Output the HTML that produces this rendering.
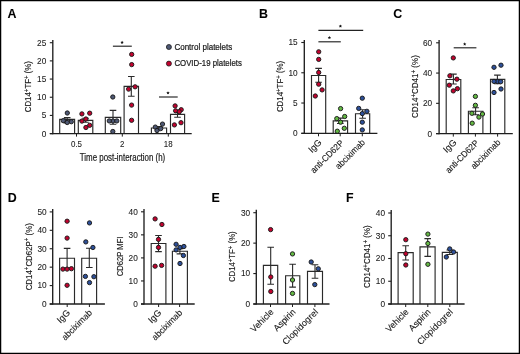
<!DOCTYPE html>
<html><head><meta charset="utf-8"><title>Figure</title>
<style>
html,body{margin:0;padding:0;background:#fff;}
body{width:520px;height:354px;overflow:hidden;}
svg{display:block;will-change:transform;}
text{font-family:"Liberation Sans", sans-serif;stroke:#1a1a1a;stroke-width:0.08px;}
</style></head>
<body>
<svg width="520" height="354" viewBox="0 0 520 354">
<rect x="0.6" y="0.6" width="518.8" height="352.8" fill="#fff" stroke="#000" stroke-width="1.3"/>
<path d="M59.7 133.6V119.3H74.6V133.6" fill="#fff" stroke="#2a2a2a" stroke-width="1.15"/>
<path d="M78.3 133.6V120.3H92.8V133.6" fill="#fff" stroke="#2a2a2a" stroke-width="1.15"/>
<path d="M105.3 133.6V117.3H120.7V133.6" fill="#fff" stroke="#2a2a2a" stroke-width="1.15"/>
<path d="M124.1 133.6V86.4H138.5V133.6" fill="#fff" stroke="#2a2a2a" stroke-width="1.15"/>
<path d="M151.4 133.6V128H166.6V133.6" fill="#fff" stroke="#2a2a2a" stroke-width="1.15"/>
<path d="M170.5 133.6V114.4H184.6V133.6" fill="#fff" stroke="#2a2a2a" stroke-width="1.15"/>
<path d="M311.5 133.3V75.5H325.7V133.3" fill="#fff" stroke="#2a2a2a" stroke-width="1.15"/>
<path d="M333.2 133.3V120.8H347.6V133.3" fill="#fff" stroke="#2a2a2a" stroke-width="1.15"/>
<path d="M355.5 133.3V113.7H369.7V133.3" fill="#fff" stroke="#2a2a2a" stroke-width="1.15"/>
<path d="M446.2 133.6V79.5H460.8V133.6" fill="#fff" stroke="#2a2a2a" stroke-width="1.15"/>
<path d="M468.4 133.6V111.2H482.9V133.6" fill="#fff" stroke="#2a2a2a" stroke-width="1.15"/>
<path d="M490.5 133.6V79.4H504.8V133.6" fill="#fff" stroke="#2a2a2a" stroke-width="1.15"/>
<path d="M59.6 304V258.2H74.5V304" fill="#fff" stroke="#2a2a2a" stroke-width="1.15"/>
<path d="M81.7 304V258.2H96.6V304" fill="#fff" stroke="#2a2a2a" stroke-width="1.15"/>
<path d="M151.2 304V243.5H165.9V304" fill="#fff" stroke="#2a2a2a" stroke-width="1.15"/>
<path d="M172.4 304V251.2H187.4V304" fill="#fff" stroke="#2a2a2a" stroke-width="1.15"/>
<path d="M263.4 304V265.4H277.7V304" fill="#fff" stroke="#2a2a2a" stroke-width="1.15"/>
<path d="M285.6 304V275.7H299.8V304" fill="#fff" stroke="#2a2a2a" stroke-width="1.15"/>
<path d="M307.5 304V271.4H322.5V304" fill="#fff" stroke="#2a2a2a" stroke-width="1.15"/>
<path d="M398.1 304V252.6H413.2V304" fill="#fff" stroke="#2a2a2a" stroke-width="1.15"/>
<path d="M420 304V246.9H435.1V304" fill="#fff" stroke="#2a2a2a" stroke-width="1.15"/>
<path d="M442.3 304V252.3H457.3V304" fill="#fff" stroke="#2a2a2a" stroke-width="1.15"/>
<text transform="translate(7.4 17.8)" font-size="12.4" text-anchor="start" fill="#000" font-weight="bold">A</text>
<line x1="52.8" y1="40" x2="52.8" y2="134.2" stroke="#1e1e1e" stroke-width="1.35"/>
<line x1="49.8" y1="133.6" x2="52.8" y2="133.6" stroke="#1e1e1e" stroke-width="1.1"/>
<text transform="translate(46.3 136.5) scale(0.8800 1)" font-size="9.4" text-anchor="end" fill="#1a1a1a">0</text>
<line x1="49.8" y1="115.42" x2="52.8" y2="115.42" stroke="#1e1e1e" stroke-width="1.1"/>
<text transform="translate(46.3 118.32) scale(0.8800 1)" font-size="9.4" text-anchor="end" fill="#1a1a1a">5</text>
<line x1="49.8" y1="97.24" x2="52.8" y2="97.24" stroke="#1e1e1e" stroke-width="1.1"/>
<text transform="translate(46.3 100.14) scale(0.8800 1)" font-size="9.4" text-anchor="end" fill="#1a1a1a">10</text>
<line x1="49.8" y1="79.06" x2="52.8" y2="79.06" stroke="#1e1e1e" stroke-width="1.1"/>
<text transform="translate(46.3 81.96) scale(0.8800 1)" font-size="9.4" text-anchor="end" fill="#1a1a1a">15</text>
<line x1="49.8" y1="60.88" x2="52.8" y2="60.88" stroke="#1e1e1e" stroke-width="1.1"/>
<text transform="translate(46.3 63.78) scale(0.8800 1)" font-size="9.4" text-anchor="end" fill="#1a1a1a">20</text>
<line x1="49.8" y1="42.7" x2="52.8" y2="42.7" stroke="#1e1e1e" stroke-width="1.1"/>
<text transform="translate(46.3 45.6) scale(0.8800 1)" font-size="9.4" text-anchor="end" fill="#1a1a1a">25</text>
<line x1="49.8" y1="133.6" x2="191.7" y2="133.6" stroke="#1e1e1e" stroke-width="1.35"/>
<line x1="76.5" y1="133.6" x2="76.5" y2="136.6" stroke="#1e1e1e" stroke-width="1.0"/>
<line x1="122.3" y1="133.6" x2="122.3" y2="136.6" stroke="#1e1e1e" stroke-width="1.0"/>
<line x1="168.3" y1="133.6" x2="168.3" y2="136.6" stroke="#1e1e1e" stroke-width="1.0"/>
<line x1="112.9" y1="46.2" x2="131.8" y2="46.2" stroke="#222" stroke-width="1.15"/>
<polygon points="122.1,40.75 122.6,41.81 123.76,41.96 122.91,42.76 123.13,43.92 122.1,43.35 121.07,43.92 121.29,42.76 120.44,41.96 121.6,41.81" fill="#111"/>
<line x1="159" y1="97" x2="177.7" y2="97" stroke="#222" stroke-width="1.15"/>
<polygon points="168,91.15 168.5,92.21 169.66,92.36 168.81,93.16 169.03,94.32 168,93.75 166.97,94.32 167.19,93.16 166.34,92.36 167.5,92.21" fill="#111"/>
<text transform="translate(76.5 147) scale(0.9000 1)" font-size="8.8" text-anchor="middle" fill="#1a1a1a">0.5</text>
<text transform="translate(122.2 147) scale(0.9000 1)" font-size="8.8" text-anchor="middle" fill="#1a1a1a">2</text>
<text transform="translate(168.2 147) scale(0.9000 1)" font-size="8.8" text-anchor="middle" fill="#1a1a1a">18</text>
<text transform="translate(122.5 161) scale(0.7926 1)" font-size="10.0" text-anchor="middle" fill="#1a1a1a" style="stroke-width:0.2px">Time post-interaction (h)</text>
<text transform="translate(31.4 86.65) rotate(-90) scale(0.8017 1)" font-size="9.8" text-anchor="middle" fill="#1a1a1a" style="stroke-width:0.14px"><tspan dy="0">CD14</tspan><tspan dy="-2.3" font-size="7.6">+</tspan><tspan dy="2.3">TF</tspan><tspan dy="-2.3" font-size="7.6">+</tspan><tspan dy="2.3">&#160;(%)</tspan></text>
<text transform="translate(174.4 49.5) scale(0.9121 1)" font-size="8.8" text-anchor="start" fill="#1a1a1a" style="stroke-width:0.22px">Control platelets</text>
<text transform="translate(174.4 66) scale(0.8904 1)" font-size="8.8" text-anchor="start" fill="#1a1a1a" style="stroke-width:0.22px">COVID-19 platelets</text>
<text transform="translate(258.9 17.8)" font-size="12.4" text-anchor="start" fill="#000" font-weight="bold">B</text>
<line x1="304.3" y1="40" x2="304.3" y2="133.9" stroke="#1e1e1e" stroke-width="1.35"/>
<line x1="301.3" y1="133.3" x2="304.3" y2="133.3" stroke="#1e1e1e" stroke-width="1.1"/>
<text transform="translate(297.6 136.2) scale(0.8800 1)" font-size="9.4" text-anchor="end" fill="#1a1a1a">0</text>
<line x1="301.3" y1="103.03" x2="304.3" y2="103.03" stroke="#1e1e1e" stroke-width="1.1"/>
<text transform="translate(297.6 105.93) scale(0.8800 1)" font-size="9.4" text-anchor="end" fill="#1a1a1a">5</text>
<line x1="301.3" y1="72.77" x2="304.3" y2="72.77" stroke="#1e1e1e" stroke-width="1.1"/>
<text transform="translate(297.6 75.67) scale(0.8800 1)" font-size="9.4" text-anchor="end" fill="#1a1a1a">10</text>
<line x1="301.3" y1="42.5" x2="304.3" y2="42.5" stroke="#1e1e1e" stroke-width="1.1"/>
<text transform="translate(297.6 45.4) scale(0.8800 1)" font-size="9.4" text-anchor="end" fill="#1a1a1a">15</text>
<line x1="301.3" y1="133.3" x2="377.4" y2="133.3" stroke="#1e1e1e" stroke-width="1.35"/>
<line x1="318.5" y1="133.3" x2="318.5" y2="136.3" stroke="#1e1e1e" stroke-width="1.0"/>
<line x1="340.2" y1="133.3" x2="340.2" y2="136.3" stroke="#1e1e1e" stroke-width="1.0"/>
<line x1="362.3" y1="133.3" x2="362.3" y2="136.3" stroke="#1e1e1e" stroke-width="1.0"/>
<line x1="318.4" y1="30.3" x2="363.2" y2="30.3" stroke="#222" stroke-width="1.15"/>
<polygon points="340.4,24.45 340.9,25.51 342.06,25.66 341.21,26.46 341.43,27.62 340.4,27.05 339.37,27.62 339.59,26.46 338.74,25.66 339.9,25.51" fill="#111"/>
<line x1="318.4" y1="41.8" x2="340.8" y2="41.8" stroke="#222" stroke-width="1.15"/>
<polygon points="329.4,35.95 329.9,37.01 331.06,37.16 330.21,37.96 330.43,39.12 329.4,38.55 328.37,39.12 328.59,37.96 327.74,37.16 328.9,37.01" fill="#111"/>
<text transform="translate(282.8 86.45) rotate(-90) scale(0.8048 1)" font-size="9.8" text-anchor="middle" fill="#1a1a1a" style="stroke-width:0.14px"><tspan dy="0">CD14</tspan><tspan dy="-2.3" font-size="7.6">+</tspan><tspan dy="2.3">TF</tspan><tspan dy="-2.3" font-size="7.6">+</tspan><tspan dy="2.3">&#160;(%)</tspan></text>
<text transform="translate(322.3 143) rotate(-45)" font-size="9.0" text-anchor="end" fill="#1a1a1a" style="stroke-width:0.12px">IgG</text>
<text transform="translate(344.3 143.5) rotate(-45) scale(0.9243 1)" font-size="9.0" text-anchor="end" fill="#1a1a1a" style="stroke-width:0.12px">anti-CD62P</text>
<text transform="translate(365.7 143) rotate(-45) scale(0.9379 1)" font-size="9.0" text-anchor="end" fill="#1a1a1a" style="stroke-width:0.12px">abciximab</text>
<text transform="translate(393.2 18)" font-size="12.4" text-anchor="start" fill="#000" font-weight="bold">C</text>
<line x1="439.1" y1="40" x2="439.1" y2="134.2" stroke="#1e1e1e" stroke-width="1.35"/>
<line x1="436.1" y1="133.6" x2="439.1" y2="133.6" stroke="#1e1e1e" stroke-width="1.1"/>
<text transform="translate(432.2 136.5) scale(0.8800 1)" font-size="9.4" text-anchor="end" fill="#1a1a1a">0</text>
<line x1="436.1" y1="103.33" x2="439.1" y2="103.33" stroke="#1e1e1e" stroke-width="1.1"/>
<text transform="translate(432.2 106.23) scale(0.8800 1)" font-size="9.4" text-anchor="end" fill="#1a1a1a">20</text>
<line x1="436.1" y1="73.07" x2="439.1" y2="73.07" stroke="#1e1e1e" stroke-width="1.1"/>
<text transform="translate(432.2 75.97) scale(0.8800 1)" font-size="9.4" text-anchor="end" fill="#1a1a1a">40</text>
<line x1="436.1" y1="42.8" x2="439.1" y2="42.8" stroke="#1e1e1e" stroke-width="1.1"/>
<text transform="translate(432.2 45.7) scale(0.8800 1)" font-size="9.4" text-anchor="end" fill="#1a1a1a">60</text>
<line x1="436.1" y1="133.6" x2="512.8" y2="133.6" stroke="#1e1e1e" stroke-width="1.35"/>
<line x1="453.3" y1="133.6" x2="453.3" y2="136.6" stroke="#1e1e1e" stroke-width="1.0"/>
<line x1="475.4" y1="133.6" x2="475.4" y2="136.6" stroke="#1e1e1e" stroke-width="1.0"/>
<line x1="497.6" y1="133.6" x2="497.6" y2="136.6" stroke="#1e1e1e" stroke-width="1.0"/>
<line x1="453.7" y1="47.8" x2="476.4" y2="47.8" stroke="#222" stroke-width="1.15"/>
<polygon points="464.7,42.35 465.2,43.41 466.36,43.56 465.51,44.36 465.73,45.52 464.7,44.95 463.67,45.52 463.89,44.36 463.04,43.56 464.2,43.41" fill="#111"/>
<text transform="translate(417.8 86.65) rotate(-90) scale(0.8187 1)" font-size="9.8" text-anchor="middle" fill="#1a1a1a" style="stroke-width:0.14px"><tspan dy="0">CD14</tspan><tspan dy="-2.3" font-size="7.6">+</tspan><tspan dy="2.3">CD41</tspan><tspan dy="-2.3" font-size="7.6">+</tspan><tspan dy="2.3">&#160;(%)</tspan></text>
<text transform="translate(457.1 143) rotate(-45)" font-size="9.0" text-anchor="end" fill="#1a1a1a" style="stroke-width:0.12px">IgG</text>
<text transform="translate(479.3 143.5) rotate(-45) scale(0.9243 1)" font-size="9.0" text-anchor="end" fill="#1a1a1a" style="stroke-width:0.12px">anti-CD62P</text>
<text transform="translate(501 143) rotate(-45) scale(0.9379 1)" font-size="9.0" text-anchor="end" fill="#1a1a1a" style="stroke-width:0.12px">abciximab</text>
<text transform="translate(7.8 201.8)" font-size="12.4" text-anchor="start" fill="#000" font-weight="bold">D</text>
<line x1="52.7" y1="209" x2="52.7" y2="304.6" stroke="#1e1e1e" stroke-width="1.35"/>
<line x1="49.7" y1="304" x2="52.7" y2="304" stroke="#1e1e1e" stroke-width="1.1"/>
<text transform="translate(46.6 306.9) scale(0.8800 1)" font-size="9.4" text-anchor="end" fill="#1a1a1a">0</text>
<line x1="49.7" y1="285.58" x2="52.7" y2="285.58" stroke="#1e1e1e" stroke-width="1.1"/>
<text transform="translate(46.6 288.48) scale(0.8800 1)" font-size="9.4" text-anchor="end" fill="#1a1a1a">10</text>
<line x1="49.7" y1="267.16" x2="52.7" y2="267.16" stroke="#1e1e1e" stroke-width="1.1"/>
<text transform="translate(46.6 270.06) scale(0.8800 1)" font-size="9.4" text-anchor="end" fill="#1a1a1a">20</text>
<line x1="49.7" y1="248.74" x2="52.7" y2="248.74" stroke="#1e1e1e" stroke-width="1.1"/>
<text transform="translate(46.6 251.64) scale(0.8800 1)" font-size="9.4" text-anchor="end" fill="#1a1a1a">30</text>
<line x1="49.7" y1="230.32" x2="52.7" y2="230.32" stroke="#1e1e1e" stroke-width="1.1"/>
<text transform="translate(46.6 233.22) scale(0.8800 1)" font-size="9.4" text-anchor="end" fill="#1a1a1a">40</text>
<line x1="49.7" y1="211.9" x2="52.7" y2="211.9" stroke="#1e1e1e" stroke-width="1.1"/>
<text transform="translate(46.6 214.8) scale(0.8800 1)" font-size="9.4" text-anchor="end" fill="#1a1a1a">50</text>
<line x1="49.7" y1="304" x2="104.9" y2="304" stroke="#1e1e1e" stroke-width="1.35"/>
<line x1="67.2" y1="304" x2="67.2" y2="307" stroke="#1e1e1e" stroke-width="1.0"/>
<line x1="89.4" y1="304" x2="89.4" y2="307" stroke="#1e1e1e" stroke-width="1.0"/>
<text transform="translate(31.6 256.75) rotate(-90) scale(0.8073 1)" font-size="9.8" text-anchor="middle" fill="#1a1a1a" style="stroke-width:0.14px"><tspan dy="0">CD14</tspan><tspan dy="-2.3" font-size="7.6">+</tspan><tspan dy="2.3">CD62P</tspan><tspan dy="-2.3" font-size="7.6">+</tspan><tspan dy="2.3">&#160;(%)</tspan></text>
<text transform="translate(70.7 313.4) rotate(-45)" font-size="9.0" text-anchor="end" fill="#1a1a1a" style="stroke-width:0.12px">IgG</text>
<text transform="translate(92.7 313.4) rotate(-45) scale(0.9625 1)" font-size="9.0" text-anchor="end" fill="#1a1a1a" style="stroke-width:0.12px">abciximab</text>
<line x1="144" y1="209" x2="144" y2="304.6" stroke="#1e1e1e" stroke-width="1.35"/>
<line x1="141" y1="304" x2="144" y2="304" stroke="#1e1e1e" stroke-width="1.1"/>
<text transform="translate(137.8 306.9) scale(0.8800 1)" font-size="9.4" text-anchor="end" fill="#1a1a1a">0</text>
<line x1="141" y1="280.95" x2="144" y2="280.95" stroke="#1e1e1e" stroke-width="1.1"/>
<text transform="translate(137.8 283.85) scale(0.8800 1)" font-size="9.4" text-anchor="end" fill="#1a1a1a">10</text>
<line x1="141" y1="257.9" x2="144" y2="257.9" stroke="#1e1e1e" stroke-width="1.1"/>
<text transform="translate(137.8 260.8) scale(0.8800 1)" font-size="9.4" text-anchor="end" fill="#1a1a1a">20</text>
<line x1="141" y1="234.85" x2="144" y2="234.85" stroke="#1e1e1e" stroke-width="1.1"/>
<text transform="translate(137.8 237.75) scale(0.8800 1)" font-size="9.4" text-anchor="end" fill="#1a1a1a">30</text>
<line x1="141" y1="211.8" x2="144" y2="211.8" stroke="#1e1e1e" stroke-width="1.1"/>
<text transform="translate(137.8 214.7) scale(0.8800 1)" font-size="9.4" text-anchor="end" fill="#1a1a1a">40</text>
<line x1="141" y1="304" x2="194.7" y2="304" stroke="#1e1e1e" stroke-width="1.35"/>
<line x1="158.6" y1="304" x2="158.6" y2="307" stroke="#1e1e1e" stroke-width="1.0"/>
<line x1="179.6" y1="304" x2="179.6" y2="307" stroke="#1e1e1e" stroke-width="1.0"/>
<text transform="translate(122.7 256.45) rotate(-90) scale(0.7763 1)" font-size="9.8" text-anchor="middle" fill="#1a1a1a" style="stroke-width:0.14px"><tspan dy="0">CD62P&#160;MFI</tspan></text>
<text transform="translate(161.9 313.4) rotate(-45)" font-size="9.0" text-anchor="end" fill="#1a1a1a" style="stroke-width:0.12px">IgG</text>
<text transform="translate(182.9 313.4) rotate(-45) scale(0.9625 1)" font-size="9.0" text-anchor="end" fill="#1a1a1a" style="stroke-width:0.12px">abciximab</text>
<text transform="translate(211.4 201.6)" font-size="12.4" text-anchor="start" fill="#000" font-weight="bold">E</text>
<line x1="256.3" y1="209.8" x2="256.3" y2="304.6" stroke="#1e1e1e" stroke-width="1.35"/>
<line x1="253.3" y1="304" x2="256.3" y2="304" stroke="#1e1e1e" stroke-width="1.1"/>
<text transform="translate(250.2 306.9) scale(0.8800 1)" font-size="9.4" text-anchor="end" fill="#1a1a1a">0</text>
<line x1="253.3" y1="273.57" x2="256.3" y2="273.57" stroke="#1e1e1e" stroke-width="1.1"/>
<text transform="translate(250.2 276.47) scale(0.8800 1)" font-size="9.4" text-anchor="end" fill="#1a1a1a">10</text>
<line x1="253.3" y1="243.13" x2="256.3" y2="243.13" stroke="#1e1e1e" stroke-width="1.1"/>
<text transform="translate(250.2 246.03) scale(0.8800 1)" font-size="9.4" text-anchor="end" fill="#1a1a1a">20</text>
<line x1="253.3" y1="212.7" x2="256.3" y2="212.7" stroke="#1e1e1e" stroke-width="1.1"/>
<text transform="translate(250.2 215.6) scale(0.8800 1)" font-size="9.4" text-anchor="end" fill="#1a1a1a">30</text>
<line x1="253.3" y1="304" x2="329.5" y2="304" stroke="#1e1e1e" stroke-width="1.35"/>
<line x1="270.5" y1="304" x2="270.5" y2="307" stroke="#1e1e1e" stroke-width="1.0"/>
<line x1="292.5" y1="304" x2="292.5" y2="307" stroke="#1e1e1e" stroke-width="1.0"/>
<line x1="314.9" y1="304" x2="314.9" y2="307" stroke="#1e1e1e" stroke-width="1.0"/>
<text transform="translate(235.1 256.7) rotate(-90) scale(0.7938 1)" font-size="9.8" text-anchor="middle" fill="#1a1a1a" style="stroke-width:0.14px"><tspan dy="0">CD14</tspan><tspan dy="-2.3" font-size="7.6">+</tspan><tspan dy="2.3">TF</tspan><tspan dy="-2.3" font-size="7.6">+</tspan><tspan dy="2.3">&#160;(%)</tspan></text>
<text transform="translate(274.2 312.6) rotate(-45) scale(0.9820 1)" font-size="9.0" text-anchor="end" fill="#1a1a1a" style="stroke-width:0.12px">Vehicle</text>
<text transform="translate(296.2 312.6) rotate(-45) scale(0.9815 1)" font-size="9.0" text-anchor="end" fill="#1a1a1a" style="stroke-width:0.12px">Aspirin</text>
<text transform="translate(318.7 312.6) rotate(-45) scale(1.0214 1)" font-size="9.0" text-anchor="end" fill="#1a1a1a" style="stroke-width:0.12px">Clopidogrel</text>
<text transform="translate(346 201.8)" font-size="12.4" text-anchor="start" fill="#000" font-weight="bold">F</text>
<line x1="391.2" y1="210.1" x2="391.2" y2="304.6" stroke="#1e1e1e" stroke-width="1.35"/>
<line x1="388.2" y1="304" x2="391.2" y2="304" stroke="#1e1e1e" stroke-width="1.1"/>
<text transform="translate(385 306.9) scale(0.8800 1)" font-size="9.4" text-anchor="end" fill="#1a1a1a">0</text>
<line x1="388.2" y1="281.25" x2="391.2" y2="281.25" stroke="#1e1e1e" stroke-width="1.1"/>
<text transform="translate(385 284.15) scale(0.8800 1)" font-size="9.4" text-anchor="end" fill="#1a1a1a">10</text>
<line x1="388.2" y1="258.5" x2="391.2" y2="258.5" stroke="#1e1e1e" stroke-width="1.1"/>
<text transform="translate(385 261.4) scale(0.8800 1)" font-size="9.4" text-anchor="end" fill="#1a1a1a">20</text>
<line x1="388.2" y1="235.75" x2="391.2" y2="235.75" stroke="#1e1e1e" stroke-width="1.1"/>
<text transform="translate(385 238.65) scale(0.8800 1)" font-size="9.4" text-anchor="end" fill="#1a1a1a">30</text>
<line x1="388.2" y1="213" x2="391.2" y2="213" stroke="#1e1e1e" stroke-width="1.1"/>
<text transform="translate(385 215.9) scale(0.8800 1)" font-size="9.4" text-anchor="end" fill="#1a1a1a">40</text>
<line x1="388.2" y1="304" x2="464.6" y2="304" stroke="#1e1e1e" stroke-width="1.35"/>
<line x1="405.7" y1="304" x2="405.7" y2="307" stroke="#1e1e1e" stroke-width="1.0"/>
<line x1="427.8" y1="304" x2="427.8" y2="307" stroke="#1e1e1e" stroke-width="1.0"/>
<line x1="449.8" y1="304" x2="449.8" y2="307" stroke="#1e1e1e" stroke-width="1.0"/>
<text transform="translate(370 256.7) rotate(-90) scale(0.8174 1)" font-size="9.8" text-anchor="middle" fill="#1a1a1a" style="stroke-width:0.14px"><tspan dy="0">CD14</tspan><tspan dy="-2.3" font-size="7.6">+</tspan><tspan dy="2.3">CD41</tspan><tspan dy="-2.3" font-size="7.6">+</tspan><tspan dy="2.3">&#160;(%)</tspan></text>
<text transform="translate(409.3 312.6) rotate(-45) scale(0.9820 1)" font-size="9.0" text-anchor="end" fill="#1a1a1a" style="stroke-width:0.12px">Vehicle</text>
<text transform="translate(431.3 312.6) rotate(-45) scale(0.9815 1)" font-size="9.0" text-anchor="end" fill="#1a1a1a" style="stroke-width:0.12px">Aspirin</text>
<text transform="translate(453.5 312.6) rotate(-45) scale(1.0214 1)" font-size="9.0" text-anchor="end" fill="#1a1a1a" style="stroke-width:0.12px">Clopidogrel</text>
<path d="M67.2 117.6V121M63.9 117.6H70.5M63.9 121H70.5" fill="none" stroke="#2a2a2a" stroke-width="1.1"/>
<path d="M85.5 118.3V122.3M82.2 118.3H88.8M82.2 122.3H88.8" fill="none" stroke="#2a2a2a" stroke-width="1.1"/>
<path d="M113 110.4V124.2M109.7 110.4H116.3M109.7 124.2H116.3" fill="none" stroke="#2a2a2a" stroke-width="1.1"/>
<path d="M131.3 76.5V96.3M128 76.5H134.6M128 96.3H134.6" fill="none" stroke="#2a2a2a" stroke-width="1.1"/>
<path d="M159 126.6V129.4M155.7 126.6H162.3M155.7 129.4H162.3" fill="none" stroke="#2a2a2a" stroke-width="1.1"/>
<path d="M177.5 112.4V117.3M174.2 112.4H180.8M174.2 117.3H180.8" fill="none" stroke="#2a2a2a" stroke-width="1.1"/>
<path d="M318.6 68.4V82.2M315.3 68.4H321.9M315.3 82.2H321.9" fill="none" stroke="#2a2a2a" stroke-width="1.1"/>
<path d="M340.3 118.1V123.5M337 118.1H343.6M337 123.5H343.6" fill="none" stroke="#2a2a2a" stroke-width="1.1"/>
<path d="M362.6 109.7V118.3M359.3 109.7H365.9M359.3 118.3H365.9" fill="none" stroke="#2a2a2a" stroke-width="1.1"/>
<path d="M453.4 74.1V84M450.1 74.1H456.7M450.1 84H456.7" fill="none" stroke="#2a2a2a" stroke-width="1.1"/>
<path d="M475.6 107.7V114.7M472.3 107.7H478.9M472.3 114.7H478.9" fill="none" stroke="#2a2a2a" stroke-width="1.1"/>
<path d="M497.4 75.1V83.7M494.1 75.1H500.7M494.1 83.7H500.7" fill="none" stroke="#2a2a2a" stroke-width="1.1"/>
<path d="M67.1 248.4V268M63.8 248.4H70.4M63.8 268H70.4" fill="none" stroke="#2a2a2a" stroke-width="1.1"/>
<path d="M89.3 248.3V267.5M86 248.3H92.6M86 267.5H92.6" fill="none" stroke="#2a2a2a" stroke-width="1.1"/>
<path d="M158.5 235.5V251.6M155.2 235.5H161.8M155.2 251.6H161.8" fill="none" stroke="#2a2a2a" stroke-width="1.1"/>
<path d="M179.9 248.6V253.9M176.6 248.6H183.2M176.6 253.9H183.2" fill="none" stroke="#2a2a2a" stroke-width="1.1"/>
<path d="M270.7 247.2V284.2M267.4 247.2H274M267.4 284.2H274" fill="none" stroke="#2a2a2a" stroke-width="1.1"/>
<path d="M292.6 264.2V287.1M289.3 264.2H295.9M289.3 287.1H295.9" fill="none" stroke="#2a2a2a" stroke-width="1.1"/>
<path d="M315 264.8V278.3M311.7 264.8H318.3M311.7 278.3H318.3" fill="none" stroke="#2a2a2a" stroke-width="1.1"/>
<path d="M405.7 245.8V260M402.4 245.8H409M402.4 260H409" fill="none" stroke="#2a2a2a" stroke-width="1.1"/>
<path d="M427.7 238.6V256.4M424.4 238.6H431M424.4 256.4H431" fill="none" stroke="#2a2a2a" stroke-width="1.1"/>
<path d="M449.8 250V254.5M446.5 250H453.1M446.5 254.5H453.1" fill="none" stroke="#2a2a2a" stroke-width="1.1"/>
<circle cx="65" cy="121" r="2.15" fill="#4e5874" stroke="#1a1a1a" stroke-width="0.95"/>
<circle cx="67.3" cy="113" r="2.15" fill="#4e5874" stroke="#1a1a1a" stroke-width="0.95"/>
<circle cx="63.3" cy="120.7" r="2.15" fill="#4e5874" stroke="#1a1a1a" stroke-width="0.95"/>
<circle cx="71.3" cy="121.7" r="2.15" fill="#4e5874" stroke="#1a1a1a" stroke-width="0.95"/>
<circle cx="67.2" cy="122.5" r="2.15" fill="#4e5874" stroke="#1a1a1a" stroke-width="0.95"/>
<circle cx="81.9" cy="113.9" r="2.15" fill="#c2022e" stroke="#1a1a1a" stroke-width="0.95"/>
<circle cx="89.7" cy="113.2" r="2.15" fill="#c2022e" stroke="#1a1a1a" stroke-width="0.95"/>
<circle cx="85.9" cy="119" r="2.15" fill="#c2022e" stroke="#1a1a1a" stroke-width="0.95"/>
<circle cx="81.9" cy="121.1" r="2.15" fill="#c2022e" stroke="#1a1a1a" stroke-width="0.95"/>
<circle cx="89.7" cy="125.3" r="2.15" fill="#c2022e" stroke="#1a1a1a" stroke-width="0.95"/>
<circle cx="85.9" cy="127.5" r="2.15" fill="#c2022e" stroke="#1a1a1a" stroke-width="0.95"/>
<circle cx="112.8" cy="97" r="2.15" fill="#4e5874" stroke="#1a1a1a" stroke-width="0.95"/>
<circle cx="113" cy="121" r="2.15" fill="#4e5874" stroke="#1a1a1a" stroke-width="0.95"/>
<circle cx="109.3" cy="120.9" r="2.15" fill="#4e5874" stroke="#1a1a1a" stroke-width="0.95"/>
<circle cx="116.8" cy="120.9" r="2.15" fill="#4e5874" stroke="#1a1a1a" stroke-width="0.95"/>
<circle cx="112.8" cy="131.5" r="2.15" fill="#4e5874" stroke="#1a1a1a" stroke-width="0.95"/>
<circle cx="131.7" cy="54.4" r="2.15" fill="#c2022e" stroke="#1a1a1a" stroke-width="0.95"/>
<circle cx="131.7" cy="64.6" r="2.15" fill="#c2022e" stroke="#1a1a1a" stroke-width="0.95"/>
<circle cx="128.6" cy="89.1" r="2.15" fill="#c2022e" stroke="#1a1a1a" stroke-width="0.95"/>
<circle cx="135.1" cy="86.8" r="2.15" fill="#c2022e" stroke="#1a1a1a" stroke-width="0.95"/>
<circle cx="131.6" cy="105.1" r="2.15" fill="#c2022e" stroke="#1a1a1a" stroke-width="0.95"/>
<circle cx="131.6" cy="120.3" r="2.15" fill="#c2022e" stroke="#1a1a1a" stroke-width="0.95"/>
<circle cx="162.5" cy="124.1" r="2.15" fill="#4e5874" stroke="#1a1a1a" stroke-width="0.95"/>
<circle cx="155.3" cy="127.1" r="2.15" fill="#4e5874" stroke="#1a1a1a" stroke-width="0.95"/>
<circle cx="157" cy="130.5" r="2.15" fill="#4e5874" stroke="#1a1a1a" stroke-width="0.95"/>
<circle cx="160.7" cy="128.6" r="2.15" fill="#4e5874" stroke="#1a1a1a" stroke-width="0.95"/>
<circle cx="175.1" cy="105.9" r="2.15" fill="#c2022e" stroke="#1a1a1a" stroke-width="0.95"/>
<circle cx="181.2" cy="109.7" r="2.15" fill="#c2022e" stroke="#1a1a1a" stroke-width="0.95"/>
<circle cx="175.6" cy="110.8" r="2.15" fill="#c2022e" stroke="#1a1a1a" stroke-width="0.95"/>
<circle cx="179.3" cy="111.7" r="2.15" fill="#c2022e" stroke="#1a1a1a" stroke-width="0.95"/>
<circle cx="174.4" cy="124.9" r="2.15" fill="#c2022e" stroke="#1a1a1a" stroke-width="0.95"/>
<circle cx="181" cy="122.7" r="2.15" fill="#c2022e" stroke="#1a1a1a" stroke-width="0.95"/>
<circle cx="168.9" cy="47" r="2.5" fill="#4e5874" stroke="#1a1a1a" stroke-width="0.8"/>
<circle cx="168.9" cy="63.6" r="2.5" fill="#c2022e" stroke="#1a1a1a" stroke-width="0.8"/>
<circle cx="318.7" cy="51.8" r="2.15" fill="#c2022e" stroke="#1a1a1a" stroke-width="0.95"/>
<circle cx="318.7" cy="59.4" r="2.15" fill="#c2022e" stroke="#1a1a1a" stroke-width="0.95"/>
<circle cx="318.7" cy="72.5" r="2.15" fill="#c2022e" stroke="#1a1a1a" stroke-width="0.95"/>
<circle cx="318.7" cy="84.2" r="2.15" fill="#c2022e" stroke="#1a1a1a" stroke-width="0.95"/>
<circle cx="322.1" cy="89.9" r="2.15" fill="#c2022e" stroke="#1a1a1a" stroke-width="0.95"/>
<circle cx="315.3" cy="96" r="2.15" fill="#c2022e" stroke="#1a1a1a" stroke-width="0.95"/>
<circle cx="340.6" cy="108.6" r="2.15" fill="#64b944" stroke="#1a1a1a" stroke-width="0.95"/>
<circle cx="336.8" cy="118.6" r="2.15" fill="#64b944" stroke="#1a1a1a" stroke-width="0.95"/>
<circle cx="344.7" cy="116.5" r="2.15" fill="#64b944" stroke="#1a1a1a" stroke-width="0.95"/>
<circle cx="340.6" cy="122.2" r="2.15" fill="#64b944" stroke="#1a1a1a" stroke-width="0.95"/>
<circle cx="344.3" cy="128.3" r="2.15" fill="#64b944" stroke="#1a1a1a" stroke-width="0.95"/>
<circle cx="337.3" cy="131.2" r="2.15" fill="#64b944" stroke="#1a1a1a" stroke-width="0.95"/>
<circle cx="362.3" cy="98.2" r="2.15" fill="#2d509a" stroke="#1a1a1a" stroke-width="0.95"/>
<circle cx="358.7" cy="108.4" r="2.15" fill="#2d509a" stroke="#1a1a1a" stroke-width="0.95"/>
<circle cx="366.9" cy="111.3" r="2.15" fill="#2d509a" stroke="#1a1a1a" stroke-width="0.95"/>
<circle cx="362.3" cy="113.6" r="2.15" fill="#2d509a" stroke="#1a1a1a" stroke-width="0.95"/>
<circle cx="362.3" cy="122.2" r="2.15" fill="#2d509a" stroke="#1a1a1a" stroke-width="0.95"/>
<circle cx="362.3" cy="129.9" r="2.15" fill="#2d509a" stroke="#1a1a1a" stroke-width="0.95"/>
<circle cx="453.3" cy="57.9" r="2.15" fill="#c2022e" stroke="#1a1a1a" stroke-width="0.95"/>
<circle cx="449.9" cy="75.8" r="2.15" fill="#c2022e" stroke="#1a1a1a" stroke-width="0.95"/>
<circle cx="456.9" cy="79.2" r="2.15" fill="#c2022e" stroke="#1a1a1a" stroke-width="0.95"/>
<circle cx="449.3" cy="85.2" r="2.15" fill="#c2022e" stroke="#1a1a1a" stroke-width="0.95"/>
<circle cx="457.4" cy="88.7" r="2.15" fill="#c2022e" stroke="#1a1a1a" stroke-width="0.95"/>
<circle cx="453.3" cy="90.9" r="2.15" fill="#c2022e" stroke="#1a1a1a" stroke-width="0.95"/>
<circle cx="475.4" cy="96.4" r="2.15" fill="#64b944" stroke="#1a1a1a" stroke-width="0.95"/>
<circle cx="475.4" cy="105.3" r="2.15" fill="#64b944" stroke="#1a1a1a" stroke-width="0.95"/>
<circle cx="471.9" cy="113.3" r="2.15" fill="#64b944" stroke="#1a1a1a" stroke-width="0.95"/>
<circle cx="482.5" cy="114" r="2.15" fill="#64b944" stroke="#1a1a1a" stroke-width="0.95"/>
<circle cx="478.9" cy="117.1" r="2.15" fill="#64b944" stroke="#1a1a1a" stroke-width="0.95"/>
<circle cx="472.2" cy="123.2" r="2.15" fill="#64b944" stroke="#1a1a1a" stroke-width="0.95"/>
<circle cx="494" cy="67.3" r="2.15" fill="#2d509a" stroke="#1a1a1a" stroke-width="0.95"/>
<circle cx="501" cy="65.2" r="2.15" fill="#2d509a" stroke="#1a1a1a" stroke-width="0.95"/>
<circle cx="497.5" cy="81.5" r="2.15" fill="#2d509a" stroke="#1a1a1a" stroke-width="0.95"/>
<circle cx="494" cy="81.4" r="2.15" fill="#2d509a" stroke="#1a1a1a" stroke-width="0.95"/>
<circle cx="500.7" cy="81.7" r="2.15" fill="#2d509a" stroke="#1a1a1a" stroke-width="0.95"/>
<circle cx="501" cy="89" r="2.15" fill="#2d509a" stroke="#1a1a1a" stroke-width="0.95"/>
<circle cx="494" cy="92.5" r="2.15" fill="#2d509a" stroke="#1a1a1a" stroke-width="0.95"/>
<circle cx="67.1" cy="221.2" r="2.15" fill="#c2022e" stroke="#1a1a1a" stroke-width="0.95"/>
<circle cx="67.1" cy="238.1" r="2.15" fill="#c2022e" stroke="#1a1a1a" stroke-width="0.95"/>
<circle cx="62.9" cy="269.1" r="2.15" fill="#c2022e" stroke="#1a1a1a" stroke-width="0.95"/>
<circle cx="67.1" cy="269.1" r="2.15" fill="#c2022e" stroke="#1a1a1a" stroke-width="0.95"/>
<circle cx="71.4" cy="268.7" r="2.15" fill="#c2022e" stroke="#1a1a1a" stroke-width="0.95"/>
<circle cx="67.1" cy="285.3" r="2.15" fill="#c2022e" stroke="#1a1a1a" stroke-width="0.95"/>
<circle cx="89.5" cy="222.9" r="2.15" fill="#2d509a" stroke="#1a1a1a" stroke-width="0.95"/>
<circle cx="85.8" cy="241.9" r="2.15" fill="#2d509a" stroke="#1a1a1a" stroke-width="0.95"/>
<circle cx="92.9" cy="247.5" r="2.15" fill="#2d509a" stroke="#1a1a1a" stroke-width="0.95"/>
<circle cx="85.4" cy="276.4" r="2.15" fill="#2d509a" stroke="#1a1a1a" stroke-width="0.95"/>
<circle cx="93.9" cy="276.7" r="2.15" fill="#2d509a" stroke="#1a1a1a" stroke-width="0.95"/>
<circle cx="89.5" cy="282.6" r="2.15" fill="#2d509a" stroke="#1a1a1a" stroke-width="0.95"/>
<circle cx="155.1" cy="218.9" r="2.15" fill="#c2022e" stroke="#1a1a1a" stroke-width="0.95"/>
<circle cx="161.9" cy="224.5" r="2.15" fill="#c2022e" stroke="#1a1a1a" stroke-width="0.95"/>
<circle cx="158.5" cy="239.4" r="2.15" fill="#c2022e" stroke="#1a1a1a" stroke-width="0.95"/>
<circle cx="158.5" cy="247.4" r="2.15" fill="#c2022e" stroke="#1a1a1a" stroke-width="0.95"/>
<circle cx="155.1" cy="266.2" r="2.15" fill="#c2022e" stroke="#1a1a1a" stroke-width="0.95"/>
<circle cx="161.6" cy="265.4" r="2.15" fill="#c2022e" stroke="#1a1a1a" stroke-width="0.95"/>
<circle cx="176.1" cy="244.3" r="2.15" fill="#2d509a" stroke="#1a1a1a" stroke-width="0.95"/>
<circle cx="180" cy="247.4" r="2.15" fill="#2d509a" stroke="#1a1a1a" stroke-width="0.95"/>
<circle cx="183.9" cy="246.5" r="2.15" fill="#2d509a" stroke="#1a1a1a" stroke-width="0.95"/>
<circle cx="176.1" cy="249.9" r="2.15" fill="#2d509a" stroke="#1a1a1a" stroke-width="0.95"/>
<circle cx="183.4" cy="255.5" r="2.15" fill="#2d509a" stroke="#1a1a1a" stroke-width="0.95"/>
<circle cx="180" cy="263.5" r="2.15" fill="#2d509a" stroke="#1a1a1a" stroke-width="0.95"/>
<circle cx="270.6" cy="229.6" r="2.15" fill="#c2022e" stroke="#1a1a1a" stroke-width="0.95"/>
<circle cx="270.8" cy="277" r="2.15" fill="#c2022e" stroke="#1a1a1a" stroke-width="0.95"/>
<circle cx="270.8" cy="291.5" r="2.15" fill="#c2022e" stroke="#1a1a1a" stroke-width="0.95"/>
<circle cx="292.5" cy="253.9" r="2.15" fill="#64b944" stroke="#1a1a1a" stroke-width="0.95"/>
<circle cx="292.5" cy="280" r="2.15" fill="#64b944" stroke="#1a1a1a" stroke-width="0.95"/>
<circle cx="292.5" cy="293.4" r="2.15" fill="#64b944" stroke="#1a1a1a" stroke-width="0.95"/>
<circle cx="311.2" cy="262" r="2.15" fill="#2d509a" stroke="#1a1a1a" stroke-width="0.95"/>
<circle cx="318.3" cy="268.8" r="2.15" fill="#2d509a" stroke="#1a1a1a" stroke-width="0.95"/>
<circle cx="314.8" cy="284.6" r="2.15" fill="#2d509a" stroke="#1a1a1a" stroke-width="0.95"/>
<circle cx="405.8" cy="239.7" r="2.15" fill="#c2022e" stroke="#1a1a1a" stroke-width="0.95"/>
<circle cx="405.8" cy="253.7" r="2.15" fill="#c2022e" stroke="#1a1a1a" stroke-width="0.95"/>
<circle cx="405.8" cy="265" r="2.15" fill="#c2022e" stroke="#1a1a1a" stroke-width="0.95"/>
<circle cx="427.9" cy="234.1" r="2.15" fill="#64b944" stroke="#1a1a1a" stroke-width="0.95"/>
<circle cx="427.9" cy="243.5" r="2.15" fill="#64b944" stroke="#1a1a1a" stroke-width="0.95"/>
<circle cx="427.9" cy="264.3" r="2.15" fill="#64b944" stroke="#1a1a1a" stroke-width="0.95"/>
<circle cx="449.7" cy="248.9" r="2.15" fill="#2d509a" stroke="#1a1a1a" stroke-width="0.95"/>
<circle cx="453.6" cy="252" r="2.15" fill="#2d509a" stroke="#1a1a1a" stroke-width="0.95"/>
<circle cx="446.3" cy="257" r="2.15" fill="#2d509a" stroke="#1a1a1a" stroke-width="0.95"/>
</svg>
</body></html>
